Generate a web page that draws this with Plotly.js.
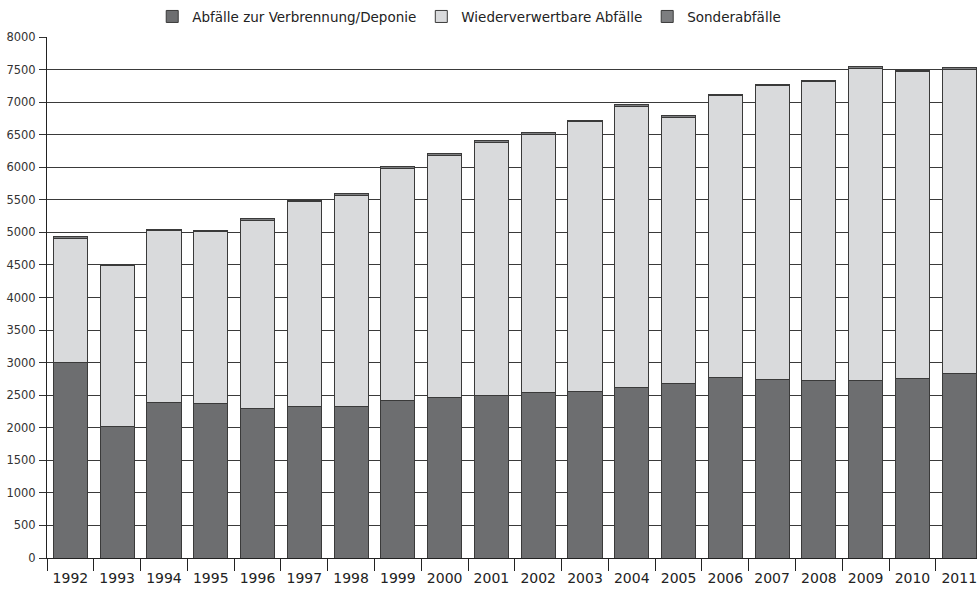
<!DOCTYPE html>
<html>
<head>
<meta charset="utf-8">
<script src="https://cdn.plot.ly/plotly-3.0.1.min.js"></script>
<style>html,body{margin:0;padding:0;background:#fff;}#chart{width:977px;height:589px;}</style>
</head>
<body>
<div id="chart"></div>
<script>
const years = ["1992","1993","1994","1995","1996","1997","1998","1999","2000","2001","2002","2003","2004","2005","2006","2007","2008","2009","2010","2011"];
const verbrennung = [3000,2020,2390,2370,2300,2330,2330,2420,2470,2495,2535,2550,2620,2675,2770,2735,2720,2725,2760,2840];
const wiederverwertbar = [1900,2475,2635,2640,2890,3140,3235,3565,3715,3880,3975,4145,4320,4095,4325,4515,4590,4795,4705,4655];
const sonder = [30,15,20,20,25,25,35,30,30,30,25,20,25,20,25,20,20,20,20,30];
const seriesNames = ["Abfälle zur Verbrennung/Deponie","Wiederverwertbare Abfälle","Sonderabfälle"];

const lineStyle = {color:'#3a3a3a', width:1};
const traces = [
  {type:'bar', name:seriesNames[0], x:years, y:verbrennung, marker:{color:'#6d6e70', line:lineStyle}},
  {type:'bar', name:seriesNames[1], x:years, y:wiederverwertbar, marker:{color:'#d9dadc', line:lineStyle}},
  {type:'bar', name:seriesNames[2], x:years, y:sonder, marker:{color:'#7d7e80', line:lineStyle}}
];

const layout = {
  width:977, height:589,
  margin:{l:47, r:0, t:37, b:31, pad:0},
  paper_bgcolor:'#fff', plot_bgcolor:'#fff',
  barmode:'stack', bargap:0.27,
  font:{family:'DejaVu Sans', color:'#222'},
  showlegend:true,
  legend:{orientation:'h', traceorder:'normal', x:0.454, xanchor:'center', y:1.039, yanchor:'middle',
          font:{size:13.5, family:'DejaVu Sans', color:'#222'}, itemwidth:30, tracegroupgap:0},
  xaxis:{type:'category', range:[-0.5,19.38], tickson:'boundaries', ticks:'outside', ticklen:12,
         tickcolor:'#222', tickwidth:1, showline:true, linecolor:'#222', linewidth:1,
         showgrid:false, tickfont:{size:14, family:'DejaVu Sans', color:'#222'}, ticklabelstandoff:7, fixedrange:true},
  yaxis:{range:[0,8000], dtick:500, tick0:0, ticks:'outside', ticklen:7, tickcolor:'#333',
         showline:true, linecolor:'#222', linewidth:1, showgrid:true, gridcolor:'#3a3a3a', gridwidth:1,
         zeroline:false, tickfont:{size:11.5, family:'DejaVu Sans', color:'#333'}, ticklabelstandoff:1}
};
Plotly.newPlot('chart', traces, layout, {displayModeBar:false, staticPlot:true});
</script>
</body>
</html>
